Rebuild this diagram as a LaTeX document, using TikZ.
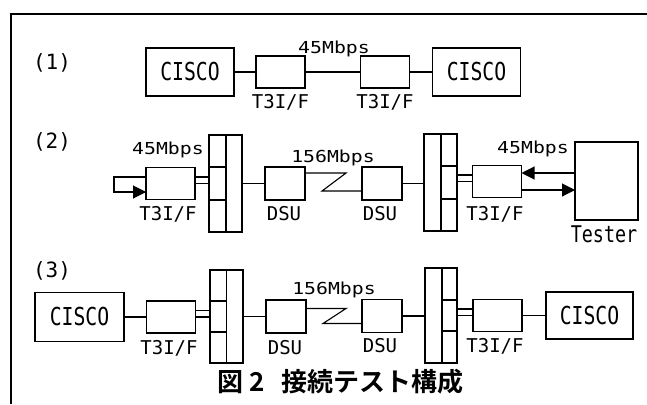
\documentclass[tikz,border=0pt]{standalone}
\usepackage{fontspec}
\usetikzlibrary{arrows.meta, calc}
\newfontfamily\devfont{DejaVu Sans Mono}
\newfontfamily\narrowfont[FakeStretch=0.8]{DejaVu Sans Mono}
\newfontfamily\ratefont[FakeStretch=1.2]{DejaVu Sans Mono}
\newfontfamily\capfont{Noto Sans CJK JP Bold}

\begin{document}
\begin{tikzpicture}[
  x=1pt, y=-1pt,
  devbox/.style={draw, line width=1.8pt, inner sep=0pt, outer sep=0pt},
  cisco/.style={devbox, minimum width=88pt, minimum height=48pt,
    font=\narrowfont\fontsize{24.7}{25}\selectfont},
  tif/.style={devbox, minimum width=49pt, minimum height=32pt},
  dsu/.style={devbox, minimum width=40pt, minimum height=33pt},
  cell/.style={devbox},
  tester/.style={devbox, minimum width=63pt, minimum height=78pt},
  lbl/.style={anchor=base, inner sep=0pt, font=\devfont\fontsize{19}{19}\selectfont},
  rate/.style={anchor=base, inner sep=0pt, font=\ratefont\fontsize{16.5}{17}\selectfont},
  num/.style={anchor=base, inner sep=0pt, font=\devfont\fontsize{21}{21}\selectfont},
  capt/.style={anchor=base, inner sep=0pt, font=\capfont\fontsize{26}{26}\selectfont},
  link/.style={line width=1.1pt},
  tip/.style={-{Triangle[length=13pt, width=13pt]}},
]
\useasboundingbox (0,0) rectangle (647,404);

% frame
\draw[line width=1.4pt] (647,14) -| (11,404);

% (1)
\node[num] (n1) at (52,69) {(1)};
\node[cisco] (cisA) at (190,72) {CISCO};
\node[tif] (tifA) at (280.5,72) {};
\node[tif] (tifB) at (385,72) {};
\node[cisco] (cisB) at (476.5,72) {CISCO};
\node[lbl] (tifAlbl) at (280.5,108) {T3I/F};
\node[lbl] (tifBlbl) at (385,108) {T3I/F};
\node[rate] (rate1) at (334,53) {45Mbps};
\draw[link] (cisA) -- (tifA);
\draw[link] (tifA) -- (tifB);
\draw[link] (tifB) -- (cisB);

% (2)
\node[num] (n2) at (52,148) {(2)};
\node[tif] (tifC) at (170.5,183.5) {};
\node[cell, minimum width=17pt, minimum height=32.3pt] (rcA1) at (217.5,151.2) {};
\node[cell, minimum width=17pt, minimum height=32.3pt] (rcA2) at (217.5,183.5) {};
\node[cell, minimum width=17pt, minimum height=32.3pt] (rcA3) at (217.5,215.8) {};
\node[cell, minimum width=16pt, minimum height=97pt] (raA) at (234,183.5) {};
\node[dsu] (dsuA) at (285,183.5) {};
\node[dsu] (dsuB) at (382,183.5) {};
\node[cell, minimum width=17pt, minimum height=97pt] (raB) at (432.5,182.5) {};
\node[cell, minimum width=16pt, minimum height=32.3pt] (rcB1) at (449,150.2) {};
\node[cell, minimum width=16pt, minimum height=32.3pt] (rcB2) at (449,182.5) {};
\node[cell, minimum width=16pt, minimum height=32.3pt] (rcB3) at (449,214.8) {};
\node[tif] (tifD) at (497,181.5) {};
\node[tester] (tst) at (606.5,181) {};

\node[rate] (rate2) at (168,154) {45Mbps};
\node[rate] (rate3) at (333,162) {156Mbps};
\node[rate] (rate4) at (533,153) {45Mbps};
\node[lbl] (tifClbl) at (168,220) {T3I/F};
\node[lbl] (dsuAlbl) at (284,220) {DSU};
\node[lbl] (dsuBlbl) at (380,220) {DSU};
\node[lbl] (tifDlbl) at (495,220) {T3I/F};
\node[lbl, font=\narrowfont\fontsize{23}{23}\selectfont] (tstlbl) at (604,242) {Tester};

\draw[link, tip] ([yshift=6.5pt]tifC.west) -- ++(-32,0) |- ([yshift=-8.5pt]tifC.west);
\draw[link] ([yshift=6.5pt]tifC.east) -- ([yshift=6.5pt]tifC.east -| rcA2.west);
\draw[link] (tifC.east) -- (tifC.east -| rcA2.west);
\draw[link] (raA.east) -- (raA.east -| dsuA.west);
\draw[link] ([yshift=10.5pt]dsuA.east) -- ++(41,0) -- ++(-24,18) coordinate (zzA)
  -- (zzA -| dsuB.west);
\draw[link] (dsuB.east) -- (dsuB.east -| raB.west);
\draw[link] ([yshift=6.5pt]tifD.west) -- ([yshift=6.5pt]tifD.west -| rcB2.east);
\draw[link] (tifD.west) -- (tifD.west -| rcB2.east);
\draw[link, tip] ([yshift=8.5pt]tifD.east -| tst.west) -- ([yshift=8.5pt]tifD.east);
\draw[link, tip] ([yshift=-8.5pt]tifD.east) -- ([yshift=-8.5pt]tifD.east -| tst.west);

% (3)
\node[num] (n3) at (52,277) {(3)};
\node[cisco, minimum width=89pt, minimum height=49pt] (cisC) at (79.5,317) {CISCO};
\node[tif] (tifE) at (171,317) {};
\node[cell, minimum width=16.5pt, minimum height=31pt] (rcC1) at (218.25,285.5) {};
\node[cell, minimum width=16.5pt, minimum height=31pt] (rcC2) at (218.25,316.5) {};
\node[cell, minimum width=16.5pt, minimum height=31pt] (rcC3) at (218.25,347.5) {};
\node[cell, minimum width=16.5pt, minimum height=93pt] (raC) at (234.75,316.5) {};
\node[dsu] (dsuC) at (286,316.5) {};
\node[dsu] (dsuD) at (382,316) {};
\node[cell, minimum width=17pt, minimum height=95pt] (raD) at (433.5,315.5) {};
\node[cell, minimum width=15pt, minimum height=31.7pt] (rcD1) at (449.5,283.8) {};
\node[cell, minimum width=15pt, minimum height=31.7pt] (rcD2) at (449.5,315.5) {};
\node[cell, minimum width=15pt, minimum height=31.7pt] (rcD3) at (449.5,347.2) {};
\node[tif] (tifF) at (497.5,315.5) {};
\node[cisco, minimum width=87pt, minimum height=47pt] (cisD) at (589.5,315.5) {CISCO};

\node[rate] (rate5) at (334,294) {156Mbps};
\node[lbl] (tifElbl) at (169,354) {T3I/F};
\node[lbl] (dsuClbl) at (285,354) {DSU};
\node[lbl] (dsuDlbl) at (380,352) {DSU};
\node[lbl] (tifFlbl) at (495,352) {T3I/F};

\draw[link] (cisC.east) -- (cisC.east -| tifE.west);
\draw[link] ([yshift=6.5pt]tifE.east) -- ([yshift=6.5pt]tifE.east -| rcC2.west);
\draw[link] (tifE.east) -- (tifE.east -| rcC2.west);
\draw[link] (raC.east) -- (raC.east -| dsuC.west);
\draw[link] ([yshift=8pt]dsuC.east) -- ++(40,0) -- ++(-23,15) coordinate (zzC)
  -- (zzC -| dsuD.west);
\draw[link] (dsuD.east) -- (dsuD.east -| raD.west);
\draw[link] ([yshift=6.5pt]tifF.west) -- ([yshift=6.5pt]tifF.west -| rcD2.east);
\draw[link] (tifF.west) -- (tifF.west -| rcD2.east);
\draw[link] (tifF) -- (cisD);

\node[capt] (cap) at (340.5,391) {図\hspace{6pt}2\hspace{16pt}接続テスト構成};
\end{tikzpicture}
\end{document}
